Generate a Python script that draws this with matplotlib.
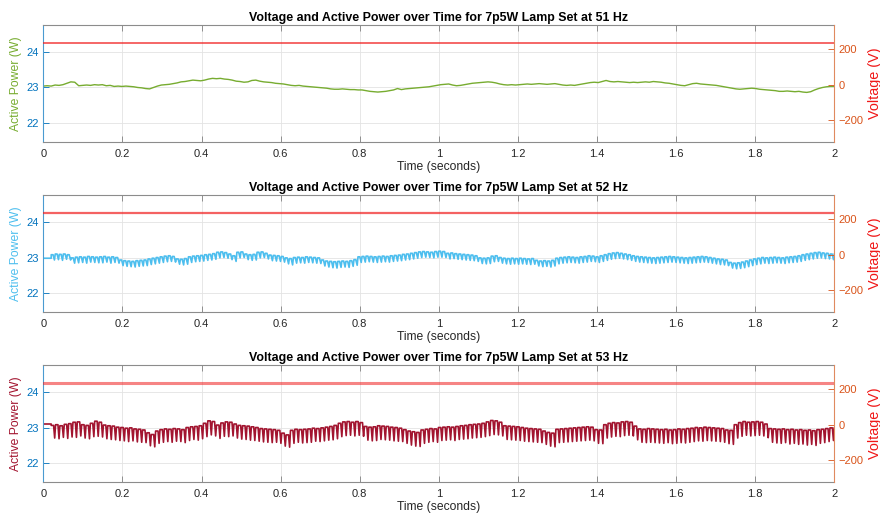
import matplotlib.pyplot as plt
import numpy as np

plt.rcParams['font.family'] = ['Liberation Sans', 'DejaVu Sans']

# frequenze di prova e tensione RMS misurata (V)
freq = [51, 52, 53]
volt_rms = [233, 233, 233]

# 51 Hz: potenza attiva (W), un campione ogni ~0.01 s da 0 a 2 s
p51 = [23.04, 23.05, 23.04, 23.07, 23.06, 23.08,
       23.12, 23.16, 23.15,
       23.05, 23.06, 23.07, 23.06, 23.08, 23.07, 23.08,
       23.05, 23.06, 23.03, 23.04, 23.03, 23.04, 23.03,
       23.02, 23.00, 22.99, 22.97, 22.96,
       23.00, 23.04, 23.07, 23.08, 23.09, 23.11, 23.13,
       23.16, 23.17, 23.19, 23.21, 23.20, 23.19, 23.21, 23.24, 23.26,
       23.25, 23.26, 23.24, 23.23, 23.21,
       23.18, 23.17, 23.15, 23.16, 23.20,
       23.21, 23.18, 23.16, 23.15,
       23.14, 23.12, 23.11, 23.10, 23.08, 23.06,
       23.05, 23.06, 23.04, 23.03, 23.02, 23.01, 23.00, 22.99,
       22.98, 22.96, 22.95, 22.95, 22.96, 22.95, 22.94, 22.94, 22.93, 22.93,
       22.91, 22.89, 22.88, 22.87, 22.88, 22.89,
       22.91, 22.93, 22.97, 22.94, 22.96, 22.97,
       22.98, 22.99, 23.00, 23.01, 23.02, 23.04, 23.06, 23.08,
       23.09, 23.10, 23.07, 23.05, 23.06,
       23.08, 23.10, 23.12, 23.13, 23.14, 23.15, 23.16, 23.15,
       23.13, 23.10, 23.08, 23.07, 23.08, 23.07, 23.08,
       23.09, 23.10, 23.09, 23.10, 23.11, 23.10, 23.09, 23.10, 23.11, 23.09,
       23.07, 23.06, 23.07, 23.06, 23.08,
       23.10, 23.12, 23.14, 23.15, 23.14, 23.17, 23.20,
       23.17, 23.16, 23.17, 23.16, 23.15, 23.14, 23.15, 23.14,
       23.15, 23.16, 23.15, 23.17, 23.16, 23.15, 23.13, 23.12,
       23.10, 23.08, 23.06, 23.05, 23.08, 23.11, 23.12,
       23.10, 23.09, 23.08, 23.07, 23.06, 23.04, 23.02,
       23.00, 22.98, 22.96, 22.95, 22.96, 22.97, 22.98, 22.97,
       22.95, 22.94, 22.93, 22.92, 22.91, 22.89, 22.89,
       22.90, 22.89, 22.88, 22.89, 22.87, 22.86, 22.88,
       22.93, 22.97, 23.00, 23.02, 23.03, 23.03]

# 52 Hz: valore iniziale, poi massimi e minimi di ogni ciclo di ripple
p52_start = 22.98
p52_top = [23.08, 23.10, 23.09, 23.10, 23.08,
           22.99, 23.01, 23.02, 23.01, 23.03, 23.02, 23.01, 23.02, 23.03, 23.01, 23.02, 23.00,
           22.93, 22.91, 22.90, 22.89, 22.91, 22.92, 22.93,
           22.96, 22.98, 23.00, 23.02, 23.04, 23.05, 23.03,
           22.96, 22.95, 22.97,
           23.02, 23.04, 23.05, 23.06, 23.08, 23.09, 23.11,
           23.15, 23.16, 23.14, 23.10,
           23.05,
           23.15, 23.16,
           23.10, 23.08, 23.09,
           23.15, 23.16, 23.12,
           23.07, 23.06, 23.05, 23.03, 22.99,
           22.97, 23.00, 23.01, 23.00, 23.02, 23.01, 23.00, 22.99,
           22.93, 22.90, 22.89, 22.88, 22.89, 22.90, 22.89, 22.91, 22.94,
           23.02, 23.03, 23.04, 23.03, 23.02, 23.03, 23.04, 23.03, 23.05, 23.06,
           23.07, 23.09, 23.10, 23.12, 23.14,
           23.16, 23.17, 23.16, 23.15, 23.17, 23.18, 23.17,
           23.12, 23.13, 23.11, 23.10, 23.09, 23.08, 23.07, 23.05,
           22.99, 22.98, 22.99, 23.04, 23.05, 23.00, 22.98, 22.97,
           22.98, 22.97, 22.98, 22.97, 22.96, 22.97,
           22.92, 22.90, 22.91, 22.90, 22.92,
           22.98, 23.00, 23.01, 23.02, 23.01, 23.00, 23.02, 23.03,
           23.05, 23.04, 23.02, 23.05, 23.08,
           23.11, 23.13, 23.14, 23.12, 23.10, 23.08,
           23.05, 23.03, 23.02, 23.01, 23.00, 22.99, 23.00, 23.01,
           23.02, 23.03, 23.02, 23.01, 23.00, 22.99, 23.00, 23.01,
           23.02, 23.03, 23.02, 23.00, 22.98, 22.96, 22.95, 22.93,
           22.86, 22.84, 22.85, 22.87, 22.90, 22.93,
           22.96, 22.98, 23.00, 22.99, 23.00, 23.01, 23.00, 22.99, 23.01, 23.02, 23.03, 23.05,
           23.08, 23.10, 23.12, 23.14, 23.15, 23.13, 23.12, 23.10]
p52_bot = [22.93, 22.94, 22.92, 22.95, 22.93,
           22.84, 22.85, 22.86, 22.84, 22.87, 22.86, 22.85, 22.85, 22.87, 22.84, 22.86, 22.84,
           22.77, 22.75, 22.74, 22.73, 22.75, 22.76, 22.77,
           22.80, 22.82, 22.84, 22.86, 22.88, 22.89, 22.87,
           22.81, 22.79, 22.81,
           22.86, 22.88, 22.89, 22.90, 22.92, 22.93, 22.95,
           22.99, 23.00, 22.98, 22.94,
           22.89,
           22.99, 23.00,
           22.94, 22.92, 22.93,
           22.99, 23.00, 22.96,
           22.91, 22.90, 22.89, 22.87, 22.82,
           22.79, 22.84, 22.85, 22.84, 22.86, 22.85, 22.84, 22.83,
           22.76, 22.73, 22.71, 22.70, 22.72, 22.73, 22.72, 22.75, 22.78,
           22.86, 22.87, 22.88, 22.87, 22.86, 22.87, 22.88, 22.87, 22.89, 22.90,
           22.91, 22.93, 22.94, 22.96, 22.98,
           23.00, 23.01, 23.00, 22.99, 23.01, 23.01, 23.00,
           22.96, 22.97, 22.95, 22.94, 22.93, 22.92, 22.91, 22.89,
           22.83, 22.82, 22.83, 22.88, 22.89, 22.84, 22.82, 22.81,
           22.82, 22.81, 22.82, 22.81, 22.80, 22.81,
           22.76, 22.74, 22.75, 22.73, 22.76,
           22.82, 22.84, 22.85, 22.86, 22.85, 22.84, 22.86, 22.87,
           22.89, 22.88, 22.86, 22.89, 22.92,
           22.95, 22.97, 22.98, 22.96, 22.94, 22.92,
           22.89, 22.87, 22.86, 22.85, 22.84, 22.83, 22.84, 22.85,
           22.86, 22.87, 22.86, 22.85, 22.84, 22.83, 22.84, 22.85,
           22.86, 22.87, 22.86, 22.84, 22.82, 22.80, 22.79, 22.77,
           22.70, 22.68, 22.69, 22.71, 22.74, 22.77,
           22.80, 22.82, 22.84, 22.83, 22.84, 22.85, 22.84, 22.83, 22.85, 22.86, 22.87, 22.89,
           22.92, 22.94, 22.96, 22.98, 22.99, 22.97, 22.96, 22.94]

# 53 Hz: valore iniziale, poi massimi e minimi di ogni ciclo
p53_start = 23.10
p53_top = [23.06, 23.08, 23.05, 23.09,
           23.11, 23.15, 23.16,
           23.08, 23.06,
           23.12, 23.18, 23.15,
           23.07, 23.05, 23.04,
           23.01, 23.00, 22.98, 22.99, 22.96, 22.95, 22.93,
           22.85, 22.80,
           22.90, 22.94, 22.96, 22.95, 22.97, 22.96, 22.94,
           23.00, 23.02, 23.03, 23.05,
           23.12, 23.19, 23.17,
           23.07,
           23.13, 23.16, 23.15,
           23.10, 23.06, 23.05, 23.04, 23.02, 23.00,
           22.97, 22.96, 22.95, 22.94, 22.92,
           22.84, 22.79,
           22.92, 22.95, 22.94,
           22.95, 22.96, 22.98, 22.97,
           22.99, 23.01, 23.03, 23.06,
           23.12, 23.16, 23.17, 23.15, 23.17, 23.14,
           23.03, 23.01, 23.02,
           23.05, 23.04, 23.03, 23.01, 23.00, 22.98,
           22.94, 22.90, 22.88, 22.86,
           22.93, 22.95, 22.97, 22.96,
           23.00, 23.01, 23.02, 23.01, 23.03, 23.05,
           23.06, 23.08, 23.09, 23.10, 23.12,
           23.16, 23.20, 23.19, 23.15,
           23.05, 23.04, 23.03, 23.02, 23.00,
           22.98, 22.97, 22.96, 22.95,
           22.90, 22.86, 22.84,
           22.95, 22.96, 22.97, 22.98, 22.99, 23.00, 23.01, 23.02, 23.01,
           22.94, 22.93,
           23.08, 23.12, 23.14, 23.13, 23.16, 23.17, 23.15,
           23.04, 22.96, 22.95,
           22.97, 22.96, 22.95, 22.94, 22.95, 22.93, 22.94, 22.96, 22.95, 22.97,
           22.98, 23.00, 22.99, 23.01, 23.00, 22.99, 22.98, 22.97,
           22.93, 22.92,
           23.08, 23.14, 23.17, 23.15, 23.16, 23.17, 23.15, 23.10,
           22.97, 22.96, 22.95, 22.96, 22.94, 22.95, 22.93, 22.94, 22.92, 22.93, 22.91,
           22.94, 22.95, 22.97, 22.99]
p53_bot = [22.70, 22.68, 22.72, 22.69,
           22.73, 22.72, 22.76,
           22.70, 22.68,
           22.74, 22.75, 22.73,
           22.68, 22.66, 22.65,
           22.63, 22.62, 22.60, 22.62, 22.59, 22.58, 22.57,
           22.48, 22.45,
           22.55, 22.58, 22.60, 22.58, 22.61, 22.60, 22.57,
           22.63, 22.66, 22.64, 22.68,
           22.74, 22.79, 22.76,
           22.69,
           22.75, 22.74, 22.76,
           22.70, 22.67, 22.66, 22.64, 22.63, 22.61,
           22.59, 22.58, 22.57, 22.58, 22.55,
           22.47, 22.44,
           22.55, 22.58, 22.56,
           22.57, 22.58, 22.61, 22.60,
           22.62, 22.64, 22.65, 22.68,
           22.74, 22.77, 22.78, 22.76, 22.78, 22.75,
           22.64, 22.62, 22.63,
           22.66, 22.65, 22.64, 22.62, 22.61, 22.60,
           22.55, 22.50, 22.47, 22.46,
           22.55, 22.58, 22.60, 22.58,
           22.63, 22.64, 22.65, 22.63, 22.66, 22.67,
           22.68, 22.70, 22.71, 22.72, 22.74,
           22.77, 22.80, 22.79, 22.76,
           22.66, 22.65, 22.64, 22.63, 22.61,
           22.60, 22.59, 22.58, 22.57,
           22.52, 22.47, 22.45,
           22.57, 22.58, 22.59, 22.60, 22.61, 22.62, 22.63, 22.64, 22.62,
           22.55, 22.54,
           22.70, 22.73, 22.75, 22.74, 22.77, 22.78, 22.76,
           22.65, 22.58, 22.57,
           22.58, 22.57, 22.56, 22.55, 22.57, 22.54, 22.55, 22.57, 22.56, 22.58,
           22.60, 22.62, 22.61, 22.63, 22.62, 22.61, 22.60, 22.58,
           22.54, 22.52,
           22.70, 22.75, 22.78, 22.76, 22.77, 22.78, 22.76, 22.71,
           22.58, 22.56, 22.55, 22.57, 22.53, 22.55, 22.52, 22.53, 22.50, 22.52, 22.49,
           22.55, 22.57, 22.60, 22.63]

T_END = 2.0
T_RIPPLE = 0.02      # inizio del ripple (s)

colori = ['#77AC30', '#4DBEEE', '#A2142F']
spessori_p = [1.0, 1.2, 1.2]
spessori_v = [1.2, 1.6, 2.2]
alpha_v = [0.8, 0.7, 0.55]


def traccia_ripple(p_start, tops, bots, forma):
    # ricostruisce la traccia: tratto piatto iniziale, poi un ciclo per ogni coppia max/min
    periodo = (T_END - T_RIPPLE) / len(tops)
    t = [0.0, T_RIPPLE]
    p = [p_start, p_start]
    for i in range(len(tops)):
        t0 = T_RIPPLE + periodo * i
        t += [t0, t0 + forma[0] * periodo, t0 + forma[1] * periodo]
        p += [tops[i], tops[i], bots[i]]
    t.append(T_END)
    p.append(tops[-1])
    return np.array(t), np.array(p)


t51 = np.linspace(0, T_END, len(p51))
t52, w52 = traccia_ripple(p52_start, p52_top, p52_bot, (0.45, 0.8))
t53, w53 = traccia_ripple(p53_start, p53_top, p53_bot, (0.55, 0.8))
tracce = [(t51, np.array(p51)), (t52, w52), (t53, w53)]

fig = plt.figure(figsize=(8.8, 5.17), dpi=100)
posizioni = [[0.0492, 0.7248, 0.8989, 0.2269],
             [0.0492, 0.3959, 0.8989, 0.2269],
             [0.0492, 0.0671, 0.8989, 0.2269]]

xt = np.round(np.arange(0, 2.01, 0.2), 1)
xt_lab = ['%g' % v for v in xt]

for k in range(3):
    ax = fig.add_axes(posizioni[k])
    ax2 = ax.twinx()
    t, p = tracce[k]
    ax.plot(t, p, color=colori[k], lw=spessori_p[k])
    ax2.plot([0, T_END], [volt_rms[k], volt_rms[k]], color='#F02020',
             lw=spessori_v[k], alpha=alpha_v[k])

    ax.set_xlim(0, T_END)
    ax.set_ylim(21.44, 24.78)
    ax2.set_ylim(-327, 337)
    ax.set_xticks(xt)
    ax.set_xticklabels(xt_lab)
    ax.set_yticks([22, 23, 24])
    ax2.set_yticks([-200, 0, 200])

    ax.grid(True, color='#E3E3E3', lw=0.6)
    ax.set_axisbelow(True)

    ax.tick_params(axis='x', direction='in', length=4, width=0.6, colors='#7f7f7f',
                   labelcolor='#262626', labelsize=8, pad=5, top=True)
    ax.tick_params(axis='y', direction='in', length=4, width=0.6, colors='#0072BD',
                   labelsize=8, pad=3)
    ax2.tick_params(axis='y', direction='in', length=4, width=0.6, colors='#D95319',
                    labelsize=8, pad=3)

    for lato in ['top', 'bottom']:
        ax.spines[lato].set_color('#8c8c8c')
        ax.spines[lato].set_linewidth(0.8)
    ax.spines['left'].set_color('#4a9bd1')
    ax.spines['right'].set_visible(False)
    ax2.spines['right'].set_color('#e08a5f')
    ax2.spines['left'].set_visible(False)
    ax2.spines['top'].set_visible(False)
    ax2.spines['bottom'].set_visible(False)

    ax.set_ylabel('Active Power (W)', color=colori[k], fontsize=8.8, labelpad=3)
    ax2.set_ylabel('Voltage (V)', color='#F01818', fontsize=10.4, labelpad=3)
    ax.set_xlabel('Time (seconds)', color='#262626', fontsize=8.7, labelpad=1)
    ax.set_title('Voltage and Active Power over Time for 7p5W Lamp Set at %d Hz' % freq[k],
                 fontsize=8.9, fontweight='bold', pad=3)

fig.savefig('out.png', dpi=100)
